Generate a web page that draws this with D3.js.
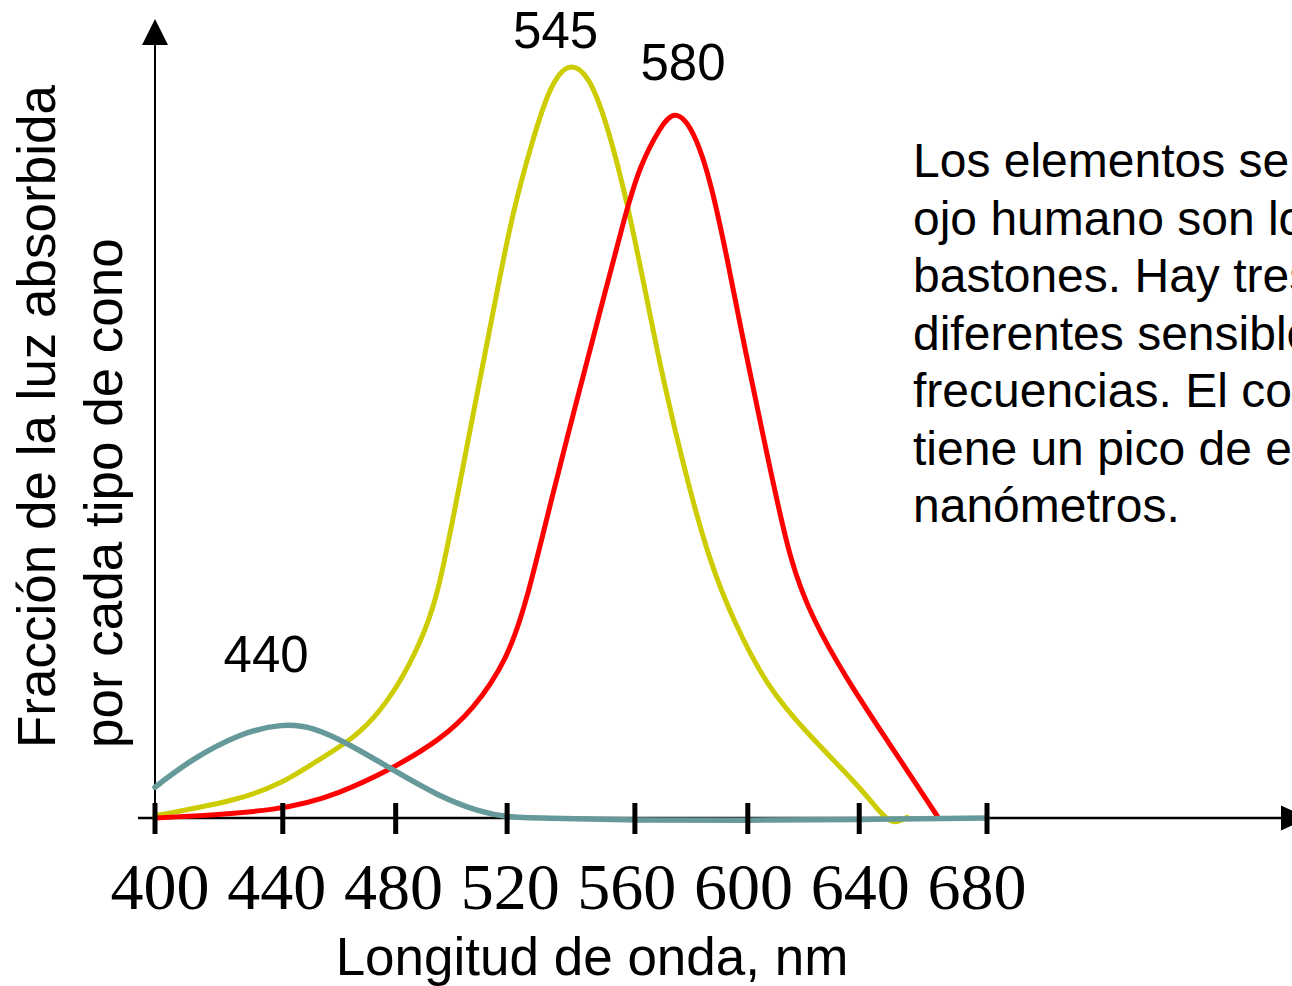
<!DOCTYPE html>
<html>
<head>
<meta charset="utf-8">
<script src="https://cdn.jsdelivr.net/npm/d3@7"></script>
<style>
  body { margin: 0; background: #fff; }
  svg { display: block; overflow: hidden; }
</style>
</head>
<body>
<svg width="1292" height="986"></svg>
<script>
// data: [wavelength nm, fraction absorbed]
var conoM = [[400,0.003],[428.6,0.024],[443.1,0.047],[453.2,0.073],[464.6,0.100],[473.4,0.130],
  [482.5,0.180],[489.2,0.233],[494.9,0.290],[501.5,0.423],[508,0.557],[514.6,0.690],[520.1,0.803],
  [527.2,0.905],[532.9,0.975],[539.2,1.008],[546,0.990],[552.1,0.925],[558.8,0.823],[565.6,0.690],
  [571,0.583],[579,0.450],[586.8,0.340],[594.5,0.264],[606,0.174],[619.4,0.113],[637.3,0.041],
  [644,0.007],[648.4,-0.009],[653.1,0.001]];
var conoL = [[400,0],[443.1,0.009],[462.3,0.033],[479.1,0.064],[496,0.104],[507,0.144],[518.5,0.210],
  [525.2,0.290],[533.3,0.423],[542,0.557],[550.8,0.690],[558.2,0.803],[563.2,0.869],[570,0.920],
  [575,0.944],[581.1,0.918],[586.8,0.852],[592.5,0.747],[597.9,0.636],[606,0.484],
  [613.7,0.340],[621.4,0.264],[632.9,0.184],[646.3,0.104],[663.2,0.003]];
var conoS = [[400,0.041],[411.8,0.077],[428.6,0.113],[443.1,0.126],[453.2,0.121],[464.6,0.100],
  [480.1,0.064],[495.9,0.028],[509.4,0.008],[518.5,0.001],[529.6,0],[561.9,-0.003],[599.6,-0.003],
  [637.3,-0.002],[680,0]];

var peakLabels = ["545", "580", "440"];
var tickMarks = [400, 443, 481, 518.5, 561.5, 599.5, 637, 680];
var tickLabels = [400, 440, 480, 520, 560, 600, 640, 680];
var yTitle = ["Fracción de la luz absorbida", "por cada tipo de cono"];
var xTitle = "Longitud de onda, nm";
var textLines = ["Los elementos sensoriales del", "ojo humano son los conos y los",
  "bastones. Hay tres tipos de conos", "diferentes sensibles a distintas",
  "frecuencias. El cono de tipo S", "tiene un pico de excitación en 440", "nanómetros."];

var svg = d3.select("svg");
var sans = "Liberation Sans, Arial, sans-serif";

var x = d3.scaleLinear().domain([400, 680]).range([155, 987]);
var xLab = d3.scaleLinear().domain([400, 680]).range([160, 977]);
var y = d3.scaleLinear().domain([0, 1]).range([818, 67]);

// axes with arrows
svg.append("line").attr("x1", 138).attr("x2", 1285).attr("y1", y(0)).attr("y2", y(0))
  .attr("stroke", "#000").attr("stroke-width", 2.5);
svg.append("path").attr("d", "M1281," + (y(0) - 12.5) + "L1308," + y(0) + "L1281," + (y(0) + 12.5) + "Z")
  .attr("fill", "#000");
svg.append("line").attr("x1", x(400)).attr("x2", x(400)).attr("y1", y(0)).attr("y2", 40)
  .attr("stroke", "#000").attr("stroke-width", 2);
svg.append("path").attr("d", "M" + (x(400) - 13) + ",45L" + x(400) + ",19L" + (x(400) + 13) + ",45Z")
  .attr("fill", "#000");

// curves
var line = d3.line()
  .x(function(d) { return x(d[0]); })
  .y(function(d) { return y(d[1]); })
  .curve(d3.curveBasis);

var series = [
  { data: conoM, color: "#cccc00", width: 5, label: peakLabels[0], dx: -13, dy: -13 },
  { data: conoL, color: "#ff0000", width: 5, label: peakLabels[1], dx: 8, dy: -29 },
  { data: conoS, color: "#669999", width: 5.5, label: peakLabels[2], dx: -17, dy: -51 }
];

series.forEach(function(s) {
  svg.append("path").datum(s.data)
    .attr("d", line)
    .attr("fill", "none")
    .attr("stroke", s.color)
    .attr("stroke-width", s.width)
    .attr("stroke-linejoin", "round")
    .attr("stroke-linecap", "round");
  var peak = d3.greatest(s.data, function(d) { return d[1]; });
  svg.append("text")
    .attr("x", x(peak[0]) + s.dx)
    .attr("y", y(peak[1]) + s.dy)
    .attr("text-anchor", "middle")
    .attr("font-family", sans)
    .attr("font-size", 51)
    .text(s.label);
});

// tick marks
svg.selectAll(".tick").data(tickMarks).enter().append("line")
  .attr("class", "tick")
  .attr("x1", function(d) { return x(d); })
  .attr("x2", function(d) { return x(d); })
  .attr("y1", y(0) - 15).attr("y2", y(0) + 16)
  .attr("stroke", "#000").attr("stroke-width", 5);

svg.selectAll(".tlab").data(tickLabels).enter().append("text")
  .attr("class", "tlab")
  .attr("x", function(d) { return xLab(d); })
  .attr("y", 909)
  .attr("text-anchor", "middle")
  .attr("font-family", "Liberation Serif, Times New Roman, serif")
  .attr("font-size", 66)
  .text(function(d) { return d; });

// titles
svg.append("text")
  .attr("x", 592).attr("y", 975)
  .attr("text-anchor", "middle")
  .attr("font-family", sans).attr("font-size", 53)
  .text(xTitle);

svg.selectAll(".ytitle").data(yTitle).enter().append("text")
  .attr("class", "ytitle")
  .attr("transform", function(d, i) { return "translate(" + (55 + i * 67) + ",748) rotate(-90)"; })
  .attr("font-family", sans).attr("font-size", 53)
  .text(function(d) { return d; });

svg.selectAll(".note").data(textLines).enter().append("text")
  .attr("class", "note")
  .attr("x", 913)
  .attr("y", function(d, i) { return 177 + i * 57.5; })
  .attr("font-family", sans).attr("font-size", 48)
  .text(function(d) { return d; });
</script>
</body>
</html>
